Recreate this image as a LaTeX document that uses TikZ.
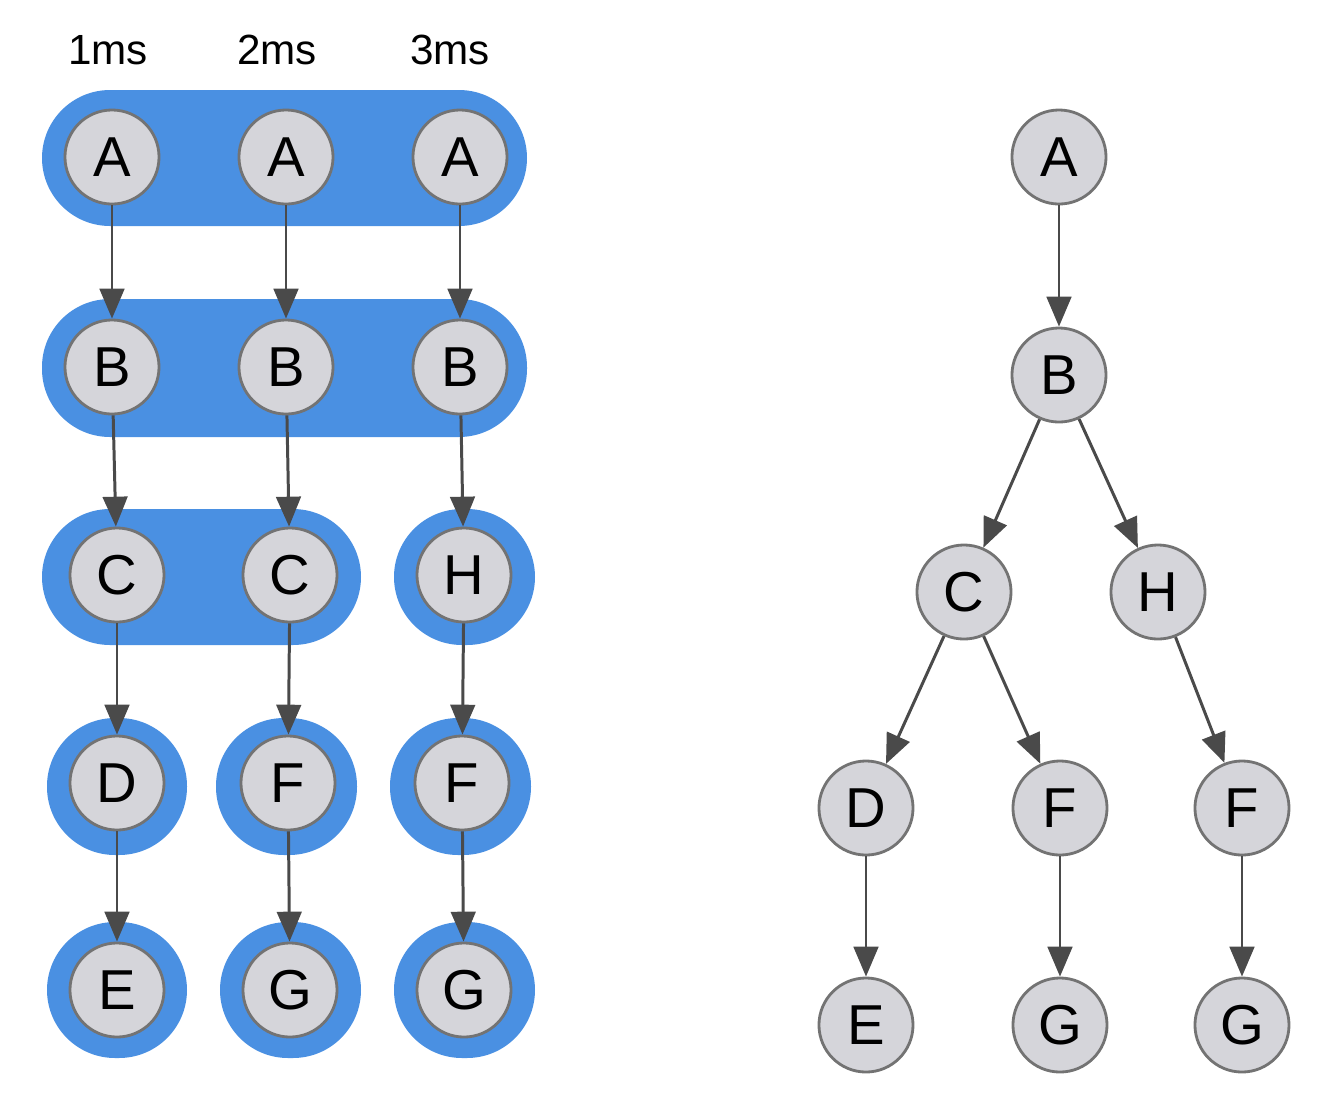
\documentclass[tikz,border=0pt]{standalone}
\usepackage{fontspec}
\setmainfont{Liberation Sans}
\usetikzlibrary{arrows.meta}
\definecolor{band}{HTML}{4A90E2}
\definecolor{nfill}{HTML}{D5D5DA}
\definecolor{ndraw}{HTML}{737373}
\definecolor{edge}{HTML}{4A4A4A}
\begin{document}
\begin{tikzpicture}[x=0.01cm,y=-0.01cm,
  n/.style={circle,draw=ndraw,fill=nfill,line width=0.8pt,minimum size=0.94cm,inner sep=0pt,font=\fontsize{16}{16}\selectfont},
  e/.style={draw=edge,line width=0.85pt,-{Triangle[length=8.5pt,width=7pt]}},
  b/.style={fill=band,rounded corners=0.68cm},
  lab/.style={font=\fontsize{12}{12}\selectfont}]
\useasboundingbox (0,0) rectangle (1338,1108);
% bands
\fill[b] (42,90) rectangle (527,226);
\fill[b] (42,299) rectangle (527,437);
\fill[b] (42,509) rectangle (361,645);
\fill[b] (394,509) rectangle (535,645);
\fill[b] (47,718) rectangle (187,855);
\fill[b] (216,718) rectangle (357,855);
\fill[b] (390,718) rectangle (531,855);
\fill[b] (47,922) rectangle (187,1058);
\fill[b] (220,922) rectangle (361,1058);
\fill[b] (394,922) rectangle (535,1058);
% labels
\node[lab] (l1) at (108,50) {1ms};
\node[lab] (l2) at (277,50) {2ms};
\node[lab] (l3) at (450,50) {3ms};
% left nodes
\node[n] (a1) at (112,157) {A};
\node[n] (a2) at (286,157) {A};
\node[n] (a3) at (460,157) {A};
\node[n] (b1) at (112,367) {B};
\node[n] (b2) at (286,367) {B};
\node[n] (b3) at (460,367) {B};
\node[n] (c1) at (117,575) {C};
\node[n] (c2) at (290,575) {C};
\node[n] (h3) at (464,575) {H};
\node[n] (d1) at (117,783) {D};
\node[n] (f2) at (288,783) {F};
\node[n] (f3) at (462,783) {F};
\node[n] (e1) at (117,990) {E};
\node[n] (g2) at (290,990) {G};
\node[n] (g3) at (464,990) {G};
\draw[e] (a1) -- (b1); \draw[e] (a2) -- (b2); \draw[e] (a3) -- (b3);
\draw[e] (b1) -- (c1); \draw[e] (b2) -- (c2); \draw[e] (b3) -- (h3);
\draw[e] (c1) -- (d1); \draw[e] (c2) -- (f2); \draw[e] (h3) -- (f3);
\draw[e] (d1) -- (e1); \draw[e] (f2) -- (g2); \draw[e] (f3) -- (g3);
% right tree
\node[n] (A) at (1059,157) {A};
\node[n] (B) at (1059,375) {B};
\node[n] (C) at (964,592) {C};
\node[n] (H) at (1158,592) {H};
\node[n] (D) at (866,808) {D};
\node[n] (F1) at (1060,808) {F};
\node[n] (F2) at (1242,808) {F};
\node[n] (E) at (866,1025) {E};
\node[n] (G1) at (1060,1025) {G};
\node[n] (G2) at (1242,1025) {G};
\draw[e] (A) -- (B); \draw[e] (B) -- (C); \draw[e] (B) -- (H);
\draw[e] (C) -- (D); \draw[e] (C) -- (F1); \draw[e] (H) -- (F2);
\draw[e] (D) -- (E); \draw[e] (F1) -- (G1); \draw[e] (F2) -- (G2);
\end{tikzpicture}
\end{document}
